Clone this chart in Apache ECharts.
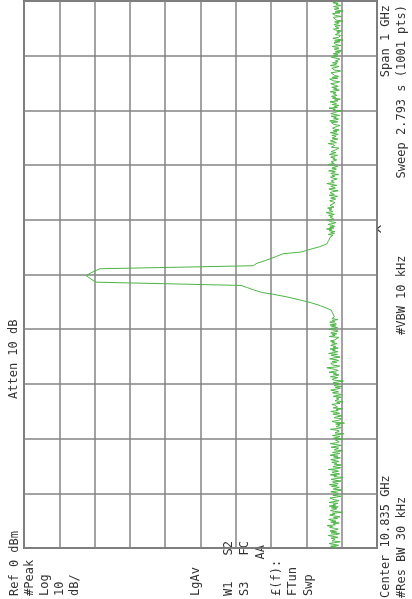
<!DOCTYPE html>
<html><head><meta charset="utf-8">
<script src="https://cdn.jsdelivr.net/npm/echarts@6/dist/echarts.min.js"></script>
<style>html,body{margin:0;padding:0;background:#fff}#c{width:412px;height:599px}</style>
</head><body><div id="c"></div>
<script>
// Frequency offsets are MHz relative to the 10.835 GHz centre; amplitudes in dBm.
const lowNoiseStartMHz = -500, lowNoiseEndMHz = -77.5;
const lowNoiseDbm = [
-87.2,-88.5,-86.9,-89.1,-87.8,-86.4,-88.0,-89.6,-87.3,-86.8,
-88.1,-87.0,-88.9,-87.5,-86.2,-88.3,-89.4,-87.0,-88.6,-86.7,
-87.9,-89.0,-88.2,-86.6,-87.4,-85.9,-88.2,-87.6,-89.3,-86.9,
-88.4,-87.1,-86.3,-88.8,-87.7,-89.5,-87.7,-86.6,-88.1,-87.4,
-90.2,-88.0,-86.8,-87.9,-88.6,-87.1,-89.0,-86.5,-88.3,-87.6,
-88.9,-86.4,-87.8,-89.2,-88.0,-87.3,-86.7,-88.5,-89.8,-87.5,
-87.3,-89.2,-88.5,-86.9,-88.8,-90.1,-87.6,-88.4,-89.3,-87.1,
-88.7,-86.5,-89.0,-88.2,-87.4,-89.8,-88.1,-87.0,-88.9,-90.4,
-87.8,-88.6,-86.8,-89.4,-88.0,-87.3,-89.1,-88.5,-86.2,-88.9,
-89.7,-87.5,-88.3,-90.0,-87.9,-88.6,-87.2,-89.2,-88.1,-86.9,
-88.4,-89.6,-87.7,-88.9,-86.7,-88.2,-89.5,-87.4,-88.8,-90.2,
-87.9,-88.3,-89.1,-87.0,-88.6,-89.9,-88.2,-86.8,-88.7,-89.3,
-89.0,-88.2,-90.3,-87.6,-88.9,-89.5,-87.4,-88.8,-90.6,-88.1,
-87.7,-89.3,-88.6,-86.8,-89.1,-90.0,-88.4,-87.9,-89.6,-88.3,
-90.8,-88.0,-87.3,-89.2,-88.7,-89.9,-87.8,-88.5,-90.1,-88.9,
-87.5,-89.4,-88.2,-86.9,-89.0,-88.4,-90.2,-87.6,-88.8,-89.3,
-88.0,-87.2,-89.5,-88.6,-90.4,-88.1,-87.7,-89.2,-88.5,-89.8,
-87.6,-88.9,-90.0,-88.3,-87.4,-89.1,-88.7,-86.9,-88.4,-89.6,
-88.2,-90.1,-87.9,-88.6,-89.3,-87.5,-88.8,-90.5,-88.0,-87.3,
-87.4,-88.9,-86.8,-88.3,-89.2,-87.6,-88.5,-86.4,-87.9,-89.0,
-88.2,-87.1,-85.8,-88.7,-89.4,-87.5,-88.0,-86.9,-88.6,-87.3,
-89.1,-88.4,-86.6,-87.8,-89.5,-88.1,-87.0,-88.8,-86.3,-87.7,
-88.9,-87.4,-88.2,-86.7,-89.0,-87.6,-88.3,-86.9,-87.5,-88.7,
-87.2,-88.0,-86.8,-87.9,-88.4,-87.8,-89.2,-86.5,-88.1,-87.3,
-88.6,-86.9,-87.7,-89.0,-88.2,-86.4,-87.6,-88.8,-87.1,-88.3,
-86.7,-88.5,-87.9,-86.6,-88.0,-87.4,-88.9,-87.2,-86.8,-87.9
];
const signalFreqMHz = [-75,-70,-65,-62,-57,-52,-47,-41,-36,-33,-28,-24,-20,-19,-14,-7,-4,-2,0,1,2,4,10.5,16,20.5,28.5,33,38,41,45,51,56,62,68];
const signalDbm     = [-88.0,-87.4,-87.0,-86.5,-84.0,-81.5,-78.5,-74.5,-70.5,-67.5,-65.0,-63.3,-61.5,-61.8,-20.3,-18.7,-18.2,-17.6,-17.2,-18.4,-18.0,-19.3,-21.5,-64.9,-66.0,-69.7,-71.5,-73.4,-78.5,-80.5,-83.9,-85.8,-86.3,-86.7];
const highNoiseStartMHz = 70, highNoiseEndMHz = 500;
const highNoiseDbm = [
-86.8,-87.5,-86.2,-87.9,-86.9,-88.1,-86.5,-87.3,-85.7,-87.8,
-86.6,-88.0,-87.2,-86.1,-87.6,-88.4,-86.9,-87.1,-85.9,-87.7,
-88.2,-86.7,-87.4,-86.3,-87.9,-86.8,-85.6,-87.5,-88.0,-86.4,
-87.2,-86.0,-87.8,-88.3,-86.7,-87.0,-86.2,-88.1,-87.4,-86.6,
-87.6,-88.3,-86.9,-87.2,-88.8,-86.5,-87.9,-88.1,-86.7,-87.4,
-89.0,-87.3,-86.4,-88.2,-87.7,-86.9,-88.6,-87.1,-85.8,-87.9,
-88.4,-87.0,-86.6,-88.7,-87.5,-86.8,-88.0,-87.3,-89.1,-86.9,
-87.6,-88.2,-86.3,-87.8,-88.5,-87.2,-86.7,-88.9,-87.4,-86.1,
-87.9,-88.3,-87.0,-86.8,-88.6,-87.5,-88.1,-86.9,-87.7,-88.8,
-86.5,-87.3,-88.4,-87.0,-86.6,-88.2,-87.8,-89.2,-87.1,-86.7,
-88.0,-87.4,-86.2,-88.5,-87.9,-86.8,-87.6,-88.9,-87.3,-86.9,
-88.4,-87.2,-89.0,-88.1,-86.8,-88.7,-87.6,-89.3,-88.0,-87.4,
-86.9,-88.8,-89.5,-87.8,-88.3,-87.1,-88.9,-86.6,-88.2,-89.1,
-87.7,-88.5,-87.0,-89.4,-88.1,-86.9,-87.9,-88.6,-90.0,-87.5,
-88.2,-86.4,-88.8,-87.9,-89.2,-87.3,-88.5,-87.8,-86.7,-88.9,
-88.0,-89.6,-87.4,-88.3,-87.1,-88.7,-89.0,-87.6,-88.4,-86.8,
-88.1,-89.3,-87.7,-88.6,-87.2,-89.0,-88.3,-87.5,-86.9,-88.7,
-89.4,-87.8,-88.2,-86.6,-88.9,-87.3,-89.1,-88.0,-87.6,-88.5,
-87.0,-88.8,-89.7,-87.9,-88.3,-87.2,-88.6,-89.2,-86.8,-88.1,
-88.7,-87.4,-89.0,-88.2,-87.8,-89.5,-88.4,-87.1,-88.9,-87.7,
-88.9,-87.6,-89.4,-88.2,-90.1,-88.7,-87.9,-89.2,-88.5,-87.3,
-89.8,-88.4,-88.9,-87.8,-89.5,-88.0,-90.3,-88.6,-87.5,-89.1,
-88.8,-89.7,-88.2,-87.9,-89.4,-88.6,-90.0,-88.3,-87.7,-89.2,
-88.9,-88.1,-89.6,-87.8,-88.7,-89.3,-88.0,-90.2,-88.5,-89.0,
-88.4,-87.6,-89.9,-88.3,-88.8,-87.4,-89.5,-88.1,-90.4,-88.7,
-87.9,-89.2,-88.6,-87.7,-89.8,-88.4,-89.0,-87.5,-88.9,-88.2
];

const bottomLeftLabels = ['Ref 0 dBm','#Peak','Log','10','dB/'];
const statusLabels = ['LgAv','W1','S3','£(f):','FTun','Swp'];

function sweep(values, f0, f1) {
  const step = (f1 - f0) / (values.length - 1);
  return values.map((v, i) => [v, f0 + i * step]);
}
const trace = []
  .concat(sweep(lowNoiseDbm, lowNoiseStartMHz, lowNoiseEndMHz))
  .concat(signalFreqMHz.map((f, i) => [signalDbm[i], f]))
  .concat(sweep(highNoiseDbm, highNoiseStartMHz, highNoiseEndMHz));

const FONT = '12px "DejaVu Sans Mono"';
const INK = '#333';
function vtext(text, x, y, align, font) {
  return { type: 'text', x: x, y: y, rotation: Math.PI / 2, silent: true,
    style: { text: text, font: font || FONT, fill: INK, align: align || 'left', verticalAlign: 'middle' } };
}
const blX = [15, 30, 45, 60, 75];
const stX = [196, 229, 245, 277, 293, 309];
const graphics = [];
bottomLeftLabels.forEach((t, i) => graphics.push(vtext(t, blX[i], 596, 'left')));
statusLabels.forEach((t, i) => graphics.push(vtext(t, stX[i], 596, 'left')));
graphics.push(vtext('S2', 229, 541, 'right'));
graphics.push(vtext('FC', 245, 541, 'right'));
graphics.push(vtext('AA', 261, 545, 'right'));
graphics.push(vtext('Atten 10 dB', 14, 399, 'left'));
graphics.push(vtext('Center 10.835 GHz', 386, 598, 'left'));
graphics.push(vtext('#Res BW 30 kHz', 402, 598, 'left'));
graphics.push(vtext('#VBW 10 kHz', 402, 335, 'left'));
graphics.push(vtext('Span 1 GHz', 386, 5, 'right'));
graphics.push(vtext('Sweep 2.793 s (1001 pts)', 402, 5, 'right'));
graphics.push(vtext('^', 384, 229, 'center', '15px "DejaVu Sans Mono"'));

const chart = echarts.init(document.getElementById('c'), null, { renderer: 'canvas' });
const gridLine = { show: true, lineStyle: { color: '#858585', width: 1.5 } };
chart.setOption({
  animation: false,
  backgroundColor: '#fff',
  grid: { left: 24, top: 1, right: 35, bottom: 51, show: true, borderColor: '#6e6e6e', borderWidth: 2, backgroundColor: '#fff' },
  xAxis: { type: 'value', min: -100, max: 0, interval: 10, inverse: true,
    axisLine: { show: false }, axisTick: { show: false }, axisLabel: { show: false }, splitLine: gridLine },
  yAxis: { type: 'value', min: -500, max: 500, interval: 100,
    axisLine: { show: false }, axisTick: { show: false }, axisLabel: { show: false }, splitLine: gridLine },
  series: [{ type: 'line', data: trace, showSymbol: false, symbol: 'none',
    lineStyle: { color: '#4cb544', width: 1 }, silent: true }],
  graphic: graphics
});
</script></body></html>
